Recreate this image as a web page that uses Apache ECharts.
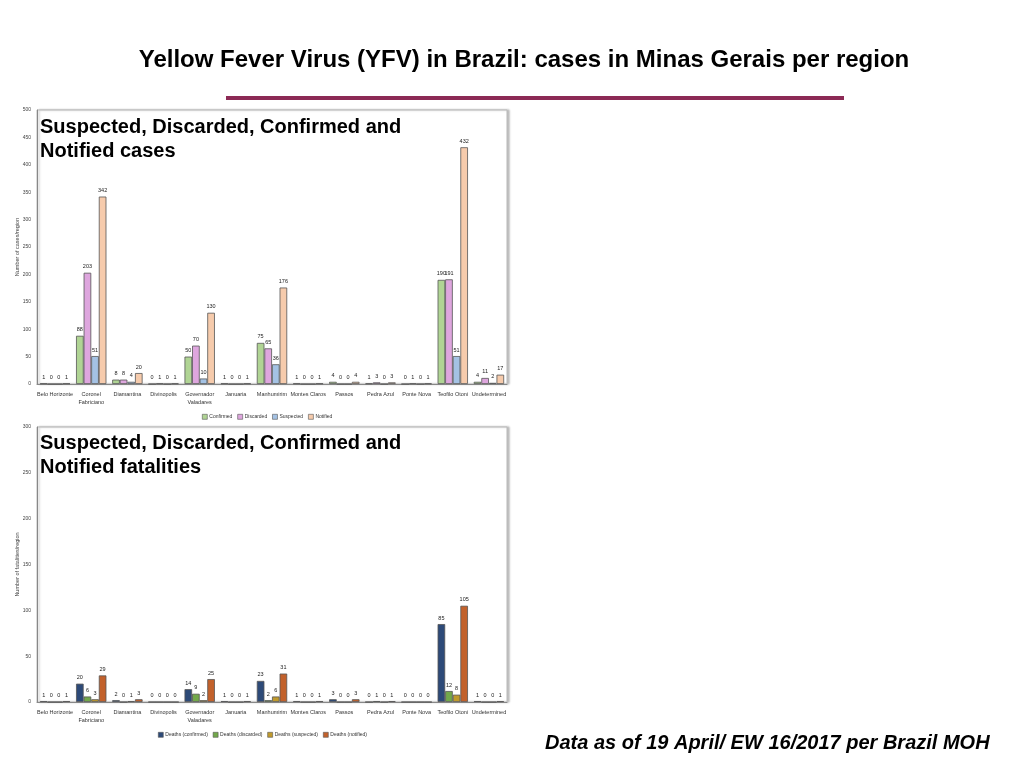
<!DOCTYPE html>
<html>
<head>
<meta charset="utf-8">
<script src="https://cdn.jsdelivr.net/npm/echarts@6/dist/echarts.min.js"></script>
<style>
  html, body { margin: 0; padding: 0; background: #fff; }
  #main { width: 1024px; height: 768px; }
</style>
</head>
<body>
<div id="main"></div>
<script>
let regions = [
  "Belo Horizonte", "Coronel\nFabriciano", "Diamantina", "Divinopolis",
  "Governador\nValadares", "Januaria", "Manhumirim", "Montes Claros",
  "Passos", "Pedra Azul", "Ponte Nova", "Teofilo Otoni", "Undetermined"
];

// cases per region
let casesConfirmed = [1, 88, 8, 0, 50, 1, 75, 1, 4, 1, 0, 190, 4];
let casesDiscarded = [0, 203, 8, 1, 70, 0, 65, 0, 0, 3, 1, 191, 11];
let casesSuspected = [0, 51, 4, 0, 10, 0, 36, 0, 0, 0, 0, 51, 2];
let casesNotified = [1, 342, 20, 1, 130, 1, 176, 1, 4, 3, 1, 432, 17];

// fatalities per region
let deathsConfirmed = [1, 20, 2, 0, 14, 1, 23, 1, 3, 0, 0, 85, 1];
let deathsDiscarded = [0, 6, 0, 0, 9, 0, 2, 0, 0, 1, 0, 12, 0];
let deathsSuspected = [0, 3, 1, 0, 2, 0, 6, 0, 0, 0, 0, 8, 0];
let deathsNotified = [1, 29, 3, 0, 25, 1, 31, 1, 3, 1, 0, 105, 1];

let caseNames = ["Confirmed", "Discarded", "Suspected", "Notified"];
let deathNames = ["Deaths (confirmed)", "Deaths (discarded)", "Deaths (suspected)", "Deaths (notified)"];

let caseColors = ["#b0d494", "#dea6de", "#a4c2e4", "#f6cbac"];
let deathColors = ["#2d4a78", "#72a84a", "#c09a2c", "#c2612b"];

let fontFam = "'Liberation Sans', Arial, Helvetica, sans-serif";
let myChart = echarts.init(document.getElementById("main"));

function makeBar(name, data, color, axisIdx) {
  return {
    type: "bar",
    name: name,
    data: data,
    xAxisIndex: axisIdx,
    yAxisIndex: axisIdx,
    barGap: "0%",
    barCategoryGap: "16%",
    itemStyle: { color: color, borderColor: "#555", borderWidth: 0.8 },
    label: {
      show: true,
      position: "top",
      distance: 3,
      fontSize: 5.5,
      color: "#222",
      fontFamily: fontFam,
    },
  };
}

function makeXAxis(idx) {
  return {
    type: "category",
    gridIndex: idx,
    data: regions,
    axisLine: { lineStyle: { color: "#888", width: 1 } },
    axisTick: { show: false },
    axisLabel: {
      fontSize: 5.5,
      color: "#333",
      interval: 0,
      margin: 6,
      lineHeight: 8,
      fontFamily: fontFam,
    },
  };
}

function makeYAxis(idx, max, name) {
  return {
    type: "value",
    gridIndex: idx,
    min: 0,
    max: max,
    interval: 50,
    name: name,
    nameLocation: "middle",
    nameGap: 17,
    nameMoveOverlap: false,
    nameTextStyle: { fontSize: 5.5, color: "#444", fontFamily: fontFam },
    axisLine: { show: true, lineStyle: { color: "#888", width: 1 } },
    axisTick: { show: false },
    splitLine: { show: false },
    axisLabel: { fontSize: 5, color: "#444", margin: 6, fontFamily: fontFam },
  };
}

let series = [];
let caseData = [casesConfirmed, casesDiscarded, casesSuspected, casesNotified];
let deathData = [deathsConfirmed, deathsDiscarded, deathsSuspected, deathsNotified];
for (let i = 0; i < 4; i++) {
  series.push(makeBar(caseNames[i], caseData[i], caseColors[i], 0));
}
for (let i = 0; i < 4; i++) {
  series.push(makeBar(deathNames[i], deathData[i], deathColors[i], 1));
}

let legendStyle = {
  itemWidth: 5,
  itemHeight: 5,
  itemGap: 5,
  icon: "rect",
  itemStyle: { borderColor: "#555", borderWidth: 0.6 },
  textStyle: { fontSize: 5, color: "#333", fontFamily: fontFam, padding: [0, 0, 0, -3] },
};

let option = {
  animation: false,
  backgroundColor: "#fff",
  title: [
    {
      text: "Yellow Fever Virus (YFV) in Brazil: cases in Minas Gerais per region",
      left: 519,
      textAlign: "center",
      top: 43,
      textStyle: { fontSize: 24, fontWeight: "bold", color: "#000", fontFamily: fontFam },
    },
    {
      text: "Suspected, Discarded, Confirmed and\nNotified cases",
      left: 35,
      top: 110,
      textStyle: { fontSize: 20, fontWeight: "bold", color: "#000", lineHeight: 24, fontFamily: fontFam },
    },
    {
      text: "Suspected, Discarded, Confirmed and\nNotified fatalities",
      left: 35,
      top: 426,
      textStyle: { fontSize: 20, fontWeight: "bold", color: "#000", lineHeight: 24, fontFamily: fontFam },
    },
    {
      text: "Data as of 19 April/ EW 16/2017 per Brazil MOH",
      left: 540,
      top: 728,
      textStyle: { fontSize: 20, fontWeight: "bold", fontStyle: "italic", color: "#000", fontFamily: fontFam },
    },
  ],
  graphic: [
    {
      type: "rect",
      shape: { x: 226, y: 96, width: 618, height: 4 },
      style: { fill: "#8c2a55" },
    },
  ],
  legend: [
    Object.assign({ data: caseNames, left: 197, top: 409 }, legendStyle),
    Object.assign({ data: deathNames, left: 153, top: 727 }, legendStyle),
  ],
  grid: [
    { left: 37, top: 110, width: 470, height: 274, show: true, borderColor: "#bbb", borderWidth: 1,
      shadowColor: "rgba(0,0,0,0.25)", shadowBlur: 2, shadowOffsetX: 2, backgroundColor: "#fff" },
    { left: 37, top: 427, width: 470, height: 275, show: true, borderColor: "#bbb", borderWidth: 1,
      shadowColor: "rgba(0,0,0,0.25)", shadowBlur: 2, shadowOffsetX: 2, backgroundColor: "#fff" },
  ],
  xAxis: [makeXAxis(0), makeXAxis(1)],
  yAxis: [makeYAxis(0, 500, "Number of cases/region"), makeYAxis(1, 300, "Number of fatalities/region")],
  series: series,
};

myChart.setOption(option);
</script>
</body>
</html>
